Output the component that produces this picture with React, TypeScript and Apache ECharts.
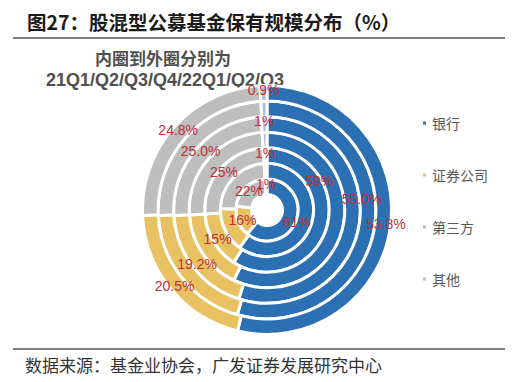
import React, { useEffect, useRef } from "react";
import * as echarts from "echarts";

const quarters = ["21Q1", "21Q2", "21Q3", "21Q4", "22Q1", "22Q2", "22Q3"];
const categories = ["银行", "证券公司", "第三方", "其他"];
const bank = [61, 60, 59, 57, 55.0, 54.4, 53.8];
const securities = [16, 15.5, 15, 17, 19.2, 19.8, 20.5];
const thirdParty = [22, 23.5, 25, 25, 25.0, 24.9, 24.8];
const other = [1, 1, 1, 1, 1, 0.9, 0.9];
const bankLabels = ["61%", "", "59%", "", "55.0%", "", "53.8%"];
const securitiesLabels = ["16%", "", "15%", "", "19.2%", "", "20.5%"];
const thirdPartyLabels = ["22%", "", "25%", "", "25.0%", "", "24.8%"];
const otherLabels = ["1%", "", "1%", "", "1%", "", "0.9%"];

const titleText = "图27：股混型公募基金保有规模分布（%）";
const subtitle1 = "内圈到外圈分别为";
const subtitle2 = "21Q1/Q2/Q3/Q4/22Q1/Q2/Q3";
const sourceText = "数据来源：基金业协会，广发证券发展研究中心";

const colors = ["#2A70B2", "#E8C262", "#BEBEBE", "#A9C0DE"];
const labelColor = "#BE2F37";

export default function App() {
  const ref = useRef<HTMLDivElement>(null);
  useEffect(() => {
    if (!ref.current) return;
    const chart = echarts.init(ref.current, null, { renderer: "svg" });
    const cx = 267;
    const cy = 210;
    const r0 = 15.5;
    const step = 15.57;
    const bankShift: Record<number, [number, number]> = {
      0: [5, 3],
      2: [-3, -45],
      4: [7, -25],
    };
    const series = quarters.map((q, i) => {
      const vals = [bank[i], securities[i], thirdParty[i], other[i]];
      const labs = [bankLabels[i], securitiesLabels[i], thirdPartyLabels[i], otherLabels[i]];
      return {
        type: "pie",
        name: q,
        center: [cx, cy],
        radius: [r0 + step * i, r0 + step * (i + 1)],
        startAngle: 90,
        clockwise: true,
        silent: true,
        animation: false,
        itemStyle: { borderColor: "#ffffff", borderWidth: 3 },
        label: {
          show: true,
          position: "inside",
          color: labelColor,
          fontSize: 14,
          fontFamily: "Liberation Sans, Arial, sans-serif",
          formatter: (p: any) => labs[p.dataIndex],
        },
        labelLine: { show: false },
        labelLayout: (p: any) => {
          const s = bankShift[i];
          if (p.dataIndex === 0 && s) return { dx: s[0], dy: s[1] };
          return {};
        },
        emphasis: { disabled: true },
        data: categories.map((c, k) => ({
          name: c,
          value: vals[k],
          itemStyle: { color: colors[k] },
        })),
      };
    });
    chart.setOption({
      animation: false,
      backgroundColor: "#ffffff",
      color: colors,
      legend: {
        data: categories,
        orient: "vertical",
        left: 416,
        top: 111,
        itemWidth: 5,
        itemHeight: 5,
        itemGap: 38,
        icon: "rect",
        selectedMode: false,
        textStyle: {
          fontSize: 14,
          color: "#595959",
          fontFamily: "Noto Sans CJK SC",
        },
      },
      series,
      graphic: [
        {
          type: "text",
          left: 27,
          top: 12,
          style: {
            text: titleText,
            fontSize: 19.5,
            fontWeight: "bold",
            fill: "#1a1a1a",
            fontFamily: "Noto Sans CJK SC",
          },
        },
        {
          type: "line",
          shape: { x1: 13, y1: 38, x2: 505, y2: 38 },
          style: { stroke: "#000000", lineWidth: 1 },
        },
        {
          type: "text",
          x: 163,
          y: 57,
          style: {
            text: subtitle1,
            fontSize: 17,
            fontWeight: "bold",
            fill: "#505050",
            align: "center",
            verticalAlign: "middle",
            fontFamily: "Noto Sans CJK SC",
          },
        },
        {
          type: "text",
          x: 165,
          y: 80,
          style: {
            text: subtitle2,
            fontSize: 18,
            fontWeight: "bold",
            fill: "#505050",
            align: "center",
            verticalAlign: "middle",
            fontFamily: "Liberation Sans, Arial, sans-serif",
          },
        },
        {
          type: "line",
          shape: { x1: 13, y1: 349, x2: 505, y2: 349 },
          style: { stroke: "#000000", lineWidth: 1 },
        },
        {
          type: "text",
          x: 25,
          y: 364,
          style: {
            text: sourceText,
            fontSize: 17,
            fill: "#333333",
            verticalAlign: "middle",
            fontFamily: "Noto Sans CJK SC",
          },
        },
      ],
    });
    return () => chart.dispose();
  }, []);
  return (
    <div
      ref={ref}
      style={{ position: "absolute", left: 0, top: 0, width: 514, height: 382, background: "#fff" }}
    />
  );
}
